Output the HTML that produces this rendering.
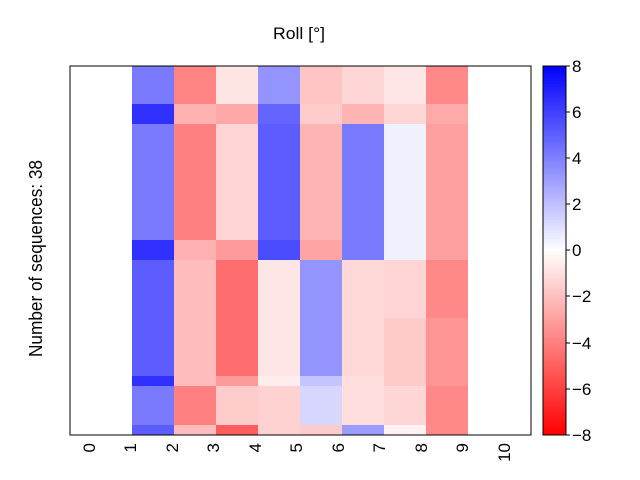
<!DOCTYPE html>
<html><head><meta charset="utf-8"><style>body{margin:0;background:#fff}svg{display:block}</style></head><body>
<svg width="640" height="480" xmlns="http://www.w3.org/2000/svg" font-family="Liberation Sans, DejaVu Sans, sans-serif" font-size="16">
<rect width="640" height="480" fill="#fff"/>
<g shape-rendering="crispEdges">
<rect x="132" y="66" width="42" height="38" fill="#7a7aff"/><rect x="174" y="66" width="42" height="38" fill="#ff8484"/><rect x="216" y="66" width="42" height="38" fill="#ffe4e4"/><rect x="258" y="66" width="42" height="38" fill="#9494ff"/><rect x="300" y="66" width="42" height="38" fill="#ffc4c4"/><rect x="342" y="66" width="42" height="38" fill="#ffd6d6"/><rect x="384" y="66" width="42" height="38" fill="#ffe6e6"/><rect x="426" y="66" width="42" height="38" fill="#ff8888"/>
<rect x="132" y="104" width="42" height="20" fill="#3030ff"/><rect x="174" y="104" width="42" height="20" fill="#ffb0b0"/><rect x="216" y="104" width="42" height="20" fill="#ffa8a8"/><rect x="258" y="104" width="42" height="20" fill="#6464ff"/><rect x="300" y="104" width="42" height="20" fill="#ffcccc"/><rect x="342" y="104" width="42" height="20" fill="#ffb4b4"/><rect x="384" y="104" width="42" height="20" fill="#ffd6d6"/><rect x="426" y="104" width="42" height="20" fill="#ffaaaa"/>
<rect x="132" y="124" width="42" height="116" fill="#7a7aff"/><rect x="174" y="124" width="42" height="116" fill="#ff8080"/><rect x="216" y="124" width="42" height="116" fill="#ffd4d4"/><rect x="258" y="124" width="42" height="116" fill="#5c5cff"/><rect x="300" y="124" width="42" height="116" fill="#ffb4b4"/><rect x="342" y="124" width="42" height="136" fill="#7a7aff"/><rect x="384" y="124" width="42" height="136" fill="#f0f0ff"/><rect x="426" y="124" width="42" height="136" fill="#ffa0a0"/>
<rect x="132" y="240" width="42" height="20" fill="#3030ff"/><rect x="174" y="240" width="42" height="20" fill="#ffb0b0"/><rect x="216" y="240" width="42" height="20" fill="#ff9a9a"/><rect x="258" y="240" width="42" height="20" fill="#4c4cff"/><rect x="300" y="240" width="42" height="20" fill="#ffa4a4"/>
<rect x="132" y="260" width="42" height="116" fill="#5c5cff"/><rect x="174" y="260" width="42" height="116" fill="#ffbcbc"/><rect x="216" y="260" width="42" height="116" fill="#ff6e6e"/><rect x="258" y="260" width="42" height="116" fill="#ffe6e6"/><rect x="300" y="260" width="42" height="116" fill="#9494ff"/><rect x="342" y="260" width="42" height="116" fill="#ffd8d8"/><rect x="384" y="260" width="42" height="58" fill="#ffd4d4"/><rect x="384" y="318" width="42" height="68" fill="#ffcaca"/><rect x="426" y="260" width="42" height="58" fill="#ff8888"/><rect x="426" y="318" width="42" height="68" fill="#ff9494"/>
<rect x="132" y="376" width="42" height="10" fill="#3030ff"/><rect x="174" y="376" width="42" height="10" fill="#ffbcbc"/><rect x="216" y="376" width="42" height="10" fill="#ff9a9a"/><rect x="258" y="376" width="42" height="10" fill="#ffecec"/><rect x="300" y="376" width="42" height="10" fill="#c4c4ff"/><rect x="342" y="376" width="42" height="10" fill="#ffdede"/>
<rect x="132" y="386" width="42" height="39" fill="#7a7aff"/><rect x="174" y="386" width="42" height="39" fill="#ff8080"/><rect x="216" y="386" width="42" height="39" fill="#ffcccc"/><rect x="258" y="386" width="42" height="39" fill="#ffd2d2"/><rect x="300" y="386" width="42" height="39" fill="#d6d6ff"/><rect x="342" y="386" width="42" height="39" fill="#ffdede"/><rect x="384" y="386" width="42" height="39" fill="#ffd6d6"/><rect x="426" y="386" width="42" height="39" fill="#ff8888"/>
<rect x="132" y="425" width="42" height="10" fill="#5c5cff"/><rect x="174" y="425" width="42" height="10" fill="#ffbcbc"/><rect x="216" y="425" width="42" height="10" fill="#ff5c5c"/><rect x="258" y="425" width="42" height="10" fill="#ffd2d2"/><rect x="300" y="425" width="42" height="10" fill="#ffcccc"/><rect x="342" y="425" width="42" height="10" fill="#9c9cff"/><rect x="384" y="425" width="42" height="10" fill="#fff2f2"/><rect x="426" y="425" width="42" height="10" fill="#ff8888"/>
<rect x="70" y="66" width="461" height="369" fill="none" stroke="#000" stroke-width="1"/>
</g>
<defs><linearGradient id="cb" x1="0" y1="0" x2="0" y2="1"><stop offset="0" stop-color="#0000ff"/><stop offset="0.5" stop-color="#ffffff"/><stop offset="1" stop-color="#ff0000"/></linearGradient></defs>
<rect x="543" y="66" width="23" height="369" fill="url(#cb)" stroke="#000" stroke-width="1"/>
<g stroke="#000">
<line x1="566" y1="66" x2="570" y2="66"/><line x1="566" y1="112" x2="570" y2="112"/><line x1="566" y1="158" x2="570" y2="158"/><line x1="566" y1="204" x2="570" y2="204"/><line x1="566" y1="250" x2="570" y2="250"/><line x1="566" y1="296" x2="570" y2="296"/><line x1="566" y1="343" x2="570" y2="343"/><line x1="566" y1="389" x2="570" y2="389"/><line x1="566" y1="435" x2="570" y2="435"/>
</g>
<g text-anchor="start" font-size="17">
<text x="572" y="72">8</text><text x="572" y="118">6</text><text x="572" y="164">4</text><text x="572" y="210">2</text><text x="572" y="256">0</text><text x="572" y="302">−2</text><text x="572" y="349">−4</text><text x="572" y="395">−6</text><text x="572" y="441">−8</text>
</g>
<text x="273" y="39" font-size="17" textLength="52" lengthAdjust="spacingAndGlyphs">Roll [°]</text>
<text transform="translate(42,357) rotate(-90)" font-size="18" textLength="197" lengthAdjust="spacingAndGlyphs">Number of sequences: 38</text>
<g text-anchor="end" font-size="17">
<text transform="translate(95,443) rotate(-90)">0</text>
<text transform="translate(136,443) rotate(-90)">1</text>
<text transform="translate(178,443) rotate(-90)">2</text>
<text transform="translate(219,443) rotate(-90)">3</text>
<text transform="translate(261,443) rotate(-90)">4</text>
<text transform="translate(302,443) rotate(-90)">5</text>
<text transform="translate(344,443) rotate(-90)">6</text>
<text transform="translate(385,443) rotate(-90)">7</text>
<text transform="translate(427,443) rotate(-90)">8</text>
<text transform="translate(468,443) rotate(-90)">9</text>
<text transform="translate(510,443) rotate(-90)">10</text>
</g>
</svg>
</body></html>
